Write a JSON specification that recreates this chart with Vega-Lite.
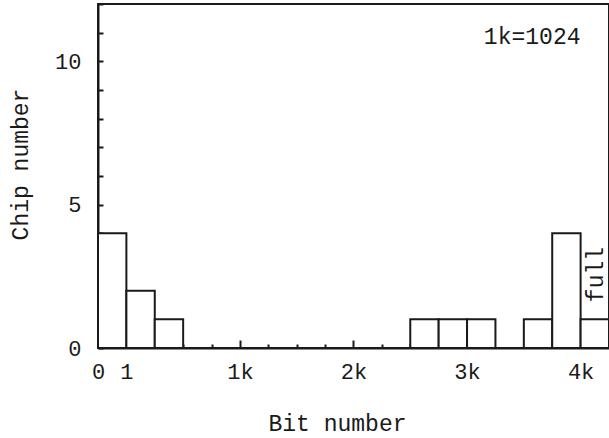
{
  "$schema": "https://vega.github.io/schema/vega-lite/v6.json",
  "width": 511,
  "height": 344,
  "autosize": "none",
  "padding": {"left": 98, "top": 4, "right": 0, "bottom": 90},
  "background": "white",
  "config": {
    "view": {"stroke": "#1a1a1a", "strokeWidth": 2},
    "font": "Liberation Mono",
    "axis": {
      "domainColor": "#1a1a1a",
      "domainWidth": 2,
      "tickColor": "#1a1a1a",
      "tickWidth": 2,
      "labelFont": "Liberation Mono",
      "titleFont": "Liberation Mono",
      "labelColor": "#1a1a1a",
      "titleColor": "#1a1a1a",
      "labelFontSize": 22,
      "titleFontSize": 23,
      "titleFontWeight": "normal",
      "grid": false
    }
  },
  "datasets": {
    "bins": [
      {"bit_start": 0, "bit_end": 1, "chips": 4},
      {"bit_start": 1, "bit_end": 257, "chips": 2},
      {"bit_start": 257, "bit_end": 513, "chips": 1},
      {"bit_start": 513, "bit_end": 769, "chips": 0},
      {"bit_start": 769, "bit_end": 1025, "chips": 0},
      {"bit_start": 1025, "bit_end": 1281, "chips": 0},
      {"bit_start": 1281, "bit_end": 1537, "chips": 0},
      {"bit_start": 1537, "bit_end": 1793, "chips": 0},
      {"bit_start": 1793, "bit_end": 2049, "chips": 0},
      {"bit_start": 2049, "bit_end": 2305, "chips": 0},
      {"bit_start": 2305, "bit_end": 2561, "chips": 0},
      {"bit_start": 2561, "bit_end": 2817, "chips": 1},
      {"bit_start": 2817, "bit_end": 3073, "chips": 1},
      {"bit_start": 3073, "bit_end": 3329, "chips": 1},
      {"bit_start": 3329, "bit_end": 3585, "chips": 0},
      {"bit_start": 3585, "bit_end": 3841, "chips": 1},
      {"bit_start": 3841, "bit_end": 4097, "chips": 4},
      {"bit_start": 4097, "bit_end": 4353, "chips": 1}
    ],
    "notes": [
      {"label": "1k=1024", "bit": 4096, "chips": 10.85}
    ],
    "full": [
      {"label": "full", "bit": 4240, "chips": 1.6}
    ]
  },
  "resolve": {"axis": {"x": "independent", "y": "independent"}},
  "layer": [
    {
      "data": {"name": "bins"},
      "mark": {"type": "rect", "fill": "white", "stroke": "#1a1a1a", "strokeWidth": 2},
      "encoding": {
        "x": {
          "field": "bit_start",
          "type": "quantitative",
          "scale": {"domain": [0, 1, 4353], "range": [0, 28.38, 511], "nice": false, "zero": false},
          "axis": {
            "orient": "bottom",
            "title": "Bit number",
            "titlePadding": 30,
            "titleX": 239,
            "values": [0, 1, 1025, 2049, 3073, 4097],
            "labelExpr": "datum.value == 0 ? '0' : datum.value == 1 ? '1' : ((datum.value - 1) / 1024) + 'k'",
            "tickSize": -8,
            "labelPadding": 21,
            "labelFlush": false,
            "labelOverlap": false
          }
        },
        "x2": {"field": "bit_end"},
        "y": {
          "field": "chips",
          "type": "quantitative",
          "scale": {"domain": [0, 12], "nice": false},
          "axis": {
            "orient": "left",
            "title": "Chip number",
            "titlePadding": 22,
            "titleY": 160,
            "values": [0, 1, 2, 3, 4, 5, 6, 7, 8, 9, 10, 11, 12],
            "labelExpr": "datum.value % 5 == 0 && datum.value < 12 ? datum.label : ''",
            "tickSize": -5,
            "labelPadding": 22,
            "labelFlush": false
          }
        },
        "y2": {"datum": 0}
      }
    },
    {
      "data": {"name": "bins"},
      "mark": {"type": "rule", "opacity": 0},
      "encoding": {
        "x": {
          "field": "bit_start",
          "type": "quantitative",
          "axis": {
            "orient": "bottom",
            "title": null,
            "values": [513, 769, 1281, 1537, 1793, 2305, 2561],
            "labels": false,
            "domain": false,
            "tickSize": -4
          }
        }
      }
    },
    {
      "data": {"name": "notes"},
      "mark": {"type": "text", "align": "right", "baseline": "middle", "fontSize": 23, "font": "Liberation Mono", "color": "#1a1a1a"},
      "encoding": {
        "x": {"field": "bit", "type": "quantitative", "axis": null},
        "y": {"field": "chips", "type": "quantitative", "axis": null},
        "text": {"field": "label"}
      }
    },
    {
      "data": {"name": "full"},
      "mark": {"type": "text", "align": "left", "baseline": "middle", "angle": 270, "fontSize": 23, "font": "Liberation Mono", "color": "#1a1a1a"},
      "encoding": {
        "x": {"field": "bit", "type": "quantitative", "axis": null},
        "y": {"field": "chips", "type": "quantitative", "axis": null},
        "text": {"field": "label"}
      }
    }
  ]
}
